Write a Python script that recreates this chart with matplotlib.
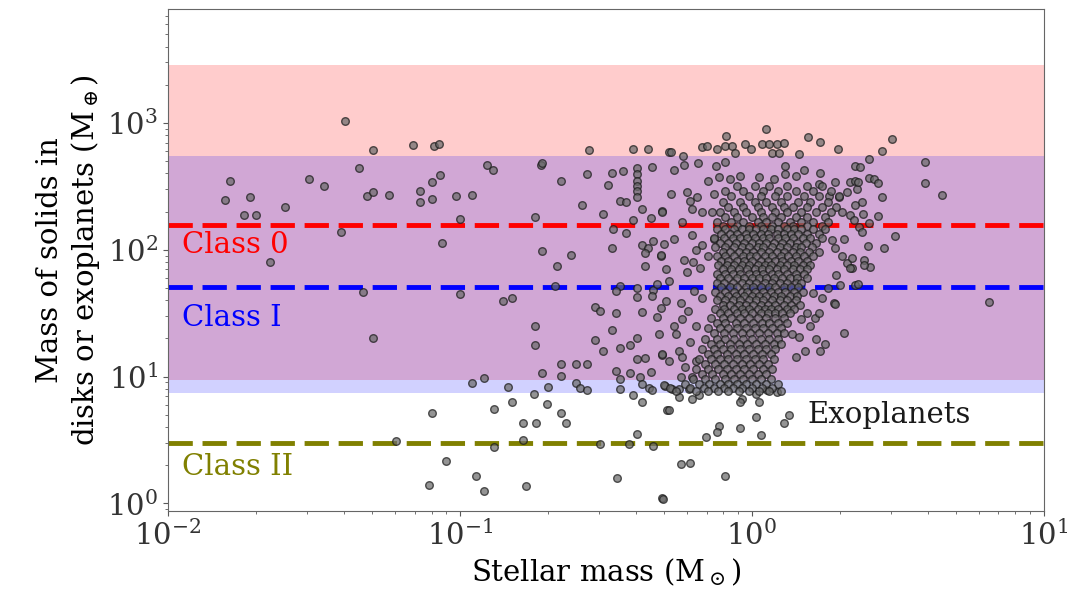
import numpy as np
import matplotlib
matplotlib.use('Agg')
import matplotlib.pyplot as plt
from matplotlib import ticker

plt.rcParams['font.family'] = 'DejaVu Serif'
plt.rcParams['mathtext.fontset'] = 'dejavuserif'

# limits of the shaded bands (M_earth) and dashed class levels
class0_band = (9.4, 2840)
class1_band = (7.4, 552)
class0_level = 157
class1_level = 51
class2_level = 3.0

# scattered points as (log10 M_star, log10 M_solid)
sparse_pts = [
    (-1.393, 3.013), (-1.297, 2.787), (-1.160, 2.823), (-1.089, 2.818), (-1.072, 2.830),
    (-1.345, 2.648), (-1.787, 2.539), (-1.518, 2.557), (-1.464, 2.500), (-1.804, 2.393),
    (-1.717, 2.414), (-1.739, 2.276), (-1.697, 2.276), (-1.599, 2.334), (-1.317, 2.422),
    (-1.297, 2.459), (-1.243, 2.432), (-1.135, 2.466), (-1.135, 2.375), (-1.095, 2.531),
    (-1.069, 2.589), (-1.095, 2.401), (-1.012, 2.424), (-0.998, 2.245), (-1.406, 2.141),
    (-1.060, 2.052), (-1.651, 1.901), (-1.332, 1.667), (-0.998, 1.651), (-1.297, 1.305),
    (-1.095, 0.709), (-1.219, 0.495), (-1.047, 0.331), (-1.105, 0.143),
    (-0.557, 2.787), (-0.406, 2.797), (-0.355, 2.797), (-0.284, 2.771), (-0.906, 2.667),
    (-0.885, 2.628), (-0.723, 2.667), (-0.717, 2.680), (-0.566, 2.596), (-0.478, 2.602),
    (-0.442, 2.622), (-0.343, 2.656), (-0.394, 2.648), (-0.394, 2.596), (-0.394, 2.544),
    (-0.394, 2.505), (-0.394, 2.466), (-0.394, 2.414), (-0.654, 2.539), (-0.491, 2.510),
    (-0.957, 2.432), (-0.452, 2.388), (-0.432, 2.380), (-0.583, 2.349), (-0.377, 2.323),
    (-0.309, 2.302), (-0.509, 2.284), (-0.742, 2.258), (-0.344, 2.250), (-0.406, 2.232),
    (-0.476, 2.167), (-0.432, 2.135), (-0.377, 2.041), (-0.355, 2.010), (-0.338, 2.068),
    (-0.301, 2.049), (-0.478, 2.010), (-0.717, 1.992), (-0.618, 1.958), (-0.364, 1.971),
    (-0.310, 1.953), (-0.366, 1.875), (-0.668, 1.870), (-0.295, 1.849), (-0.674, 1.711),
    (-0.453, 1.711), (-0.466, 1.672), (-0.394, 1.698), (-0.394, 1.625), (-0.338, 1.685),
    (-0.341, 1.633), (-0.324, 1.729), (-0.852, 1.594), (-0.822, 1.620), (-0.293, 1.599),
    (-0.538, 1.547), (-0.520, 1.516), (-0.466, 1.498), (-0.377, 1.510), (-0.326, 1.469),
    (-0.742, 1.396), (-0.478, 1.370), (-0.318, 1.338), (-0.538, 1.289), (-0.394, 1.302),
    (-0.742, 1.248), (-0.453, 1.229), (-0.418, 1.252), (-0.509, 1.198), (-0.394, 1.135),
    (-0.364, 1.148), (-0.309, 1.172), (-0.654, 1.096), (-0.603, 1.096), (-0.566, 1.096),
    (-0.717, 1.031), (-0.654, 1.005), (-0.466, 1.042), (-0.453, 0.982), (-0.418, 1.031),
    (-0.383, 0.995), (-0.377, 0.938), (-0.344, 1.039), (-0.957, 0.948), (-0.917, 0.992),
    (-0.834, 0.917), (-0.697, 0.917), (-0.603, 0.951), (-0.589, 0.912), (-0.566, 0.891),
    (-0.453, 0.901), (-0.352, 0.912), (-0.341, 0.891), (-0.298, 0.922), (-0.746, 0.859),
    (-0.406, 0.852), (-0.822, 0.799), (-0.700, 0.786), (-0.377, 0.799), (-0.883, 0.742),
    (-0.654, 0.716), (-0.290, 0.734), (-0.782, 0.630), (-0.738, 0.630), (-0.637, 0.635),
    (-0.394, 0.544), (-0.783, 0.500), (-0.883, 0.448), (-0.520, 0.469), (-0.421, 0.469),
    (-0.338, 0.453), (-0.945, 0.213), (-0.463, 0.201), (-0.917, 0.096), (-0.772, 0.135),
    (-0.307, 0.045),
    (0.050, 2.948), (-0.087, 2.896), (0.192, 2.888), (0.235, 2.852), (0.295, 2.797),
    (-0.275, 2.773), (-0.236, 2.740), (-0.170, 2.810), (-0.153, 2.818), (-0.119, 2.791),
    (-0.090, 2.818), (-0.067, 2.818), (-0.022, 2.830), (-0.001, 2.791), (0.035, 2.830),
    (0.058, 2.830), (0.087, 2.830), (0.109, 2.838), (0.069, 2.760), (0.092, 2.760),
    (0.161, 2.753), (-0.056, 2.760), (-0.184, 2.682), (-0.233, 2.667), (-0.267, 2.630),
    (-0.122, 2.661), (-0.090, 2.688), (0.113, 2.661), (0.178, 2.630), (0.235, 2.604),
    (0.355, 2.661), (-0.149, 2.544), (-0.113, 2.570), (-0.073, 2.557), (-0.039, 2.583),
    (0.024, 2.570), (0.075, 2.557), (0.115, 2.596), (0.150, 2.583), (0.229, 2.518),
    (0.286, 2.531), (0.338, 2.531), (0.355, 2.544), (-0.275, 2.440), (-0.221, 2.453),
    (-0.210, 2.388), (-0.187, 2.414), (-0.130, 2.440), (0.263, 2.427), (0.298, 2.414),
    (0.326, 2.453), (0.360, 2.479), (-0.307, 2.297), (-0.238, 2.219), (-0.204, 2.323),
    (-0.170, 2.297), (-0.136, 2.297), (0.309, 2.297), (0.338, 2.271),
    (-0.267, 2.088), (-0.204, 2.115), (-0.170, 2.037), (-0.130, 2.088),
    (0.275, 2.075), (0.315, 2.088), (0.286, 2.010), (0.326, 1.893),
    (0.343, 1.854), (-0.312, 1.958), (-0.233, 1.919), (-0.176, 1.854), (-0.221, 1.828),
    (-0.284, 1.750), (-0.198, 1.672), (0.303, 1.724), (0.355, 1.724),
    (0.281, 1.581), (-0.244, 1.581), (-0.312, 1.542),
    (0.218, 1.463), (0.229, 1.503), (0.286, 1.573), (0.315, 1.346), (0.138, 1.333),
    (0.161, 1.313), (0.184, 1.198), (0.233, 1.198), (0.153, 1.156), (-0.267, 1.398),
    (-0.238, 1.451), (-0.261, 1.333), (-0.307, 1.177), (-0.284, 1.125), (-0.250, 1.203),
    (-0.238, 1.151), (-0.227, 1.073), (-0.204, 0.995), (-0.244, 0.995), (-0.301, 0.930),
    (-0.273, 0.904), (-0.250, 0.904), (-0.216, 0.904), (0.087, 0.877), (0.052, 0.891),
    (0.013, 0.865), (-0.033, 0.826), (0.024, 0.799), (-0.250, 0.838), (-0.204, 0.826),
    (-0.181, 0.852), (-0.039, 0.799), (-0.284, 0.734), (0.013, 0.682), (0.127, 0.695),
    (0.109, 0.630), (-0.039, 0.591), (-0.113, 0.609), (-0.119, 0.565), (-0.158, 0.526),
    (0.030, 0.539), (-0.244, 0.313), (-0.213, 0.318), (-0.090, 0.219), (-0.304, 0.037),
    (0.482, 2.875), (0.446, 2.779), (0.400, 2.714), (0.372, 2.656), (0.592, 2.695),
    (0.592, 2.523), (0.653, 2.432), (0.364, 2.537), (0.400, 2.565), (0.417, 2.557),
    (0.432, 2.523), (0.446, 2.414), (0.378, 2.375), (0.355, 2.349), (0.380, 2.284),
    (0.432, 2.266), (0.349, 2.232), (0.400, 2.214), (0.366, 2.180), (0.378, 2.141),
    (0.492, 2.109), (0.397, 2.031), (0.452, 2.016), (0.343, 1.932), (0.383, 1.919),
    (0.406, 1.867), (0.383, 1.880), (0.338, 1.854), (0.364, 1.729), (0.813, 1.586),
    (0.26, 1.70), (0.21, 1.66), (0.24, 1.62), (0.29, 1.80), (0.31, 1.95), (0.19, 1.50),
    (0.20, 1.40), (0.17, 1.45), (0.22, 1.30), (0.25, 1.26),
    (-0.19, 2.00), (-0.15, 1.95), (-0.20, 1.90), (-0.17, 1.62),
    (-0.22, 1.52), (-0.19, 1.40), (-0.21, 1.27), (-0.19, 1.12),
]

# dense clump near 1 M_sun: rows of log10 M_solid, with the log10 M_star values on each row
core_ly = [2.50, 2.46, 2.42, 2.38, 2.34, 2.30, 2.26, 2.22, 2.19,
           2.16, 2.125, 2.09, 2.055, 2.02, 1.985, 1.95, 1.915, 1.88, 1.845, 1.81, 1.775,
           1.74, 1.705, 1.67, 1.635, 1.60, 1.565, 1.53, 1.50,
           1.46, 1.42, 1.38, 1.34, 1.30, 1.26, 1.22, 1.18, 1.14, 1.10, 1.06, 1.02,
           0.98, 0.945, 0.91, 0.885]
core_lx = [
    [-0.05, 0.01, 0.06, 0.12, 0.19, 0.24],
    [-0.09, -0.03, 0.04, 0.09, 0.15, 0.21, 0.27],
    [-0.07, -0.01, 0.03, 0.08, 0.12, 0.18, 0.23, 0.30],
    [-0.10, -0.04, 0.01, 0.05, 0.10, 0.16, 0.20, 0.26],
    [-0.08, -0.03, 0.02, 0.07, 0.11, 0.14, 0.19, 0.24, 0.29],
    [-0.11, -0.06, -0.02, 0.03, 0.08, 0.12, 0.17, 0.22, 0.27],
    [-0.09, -0.05, 0.00, 0.04, 0.07, 0.10, 0.15, 0.19, 0.25],
    [-0.12, -0.07, -0.03, 0.02, 0.05, 0.09, 0.13, 0.17, 0.21, 0.26],
    [-0.10, -0.05, -0.01, 0.03, 0.07, 0.11, 0.14, 0.19, 0.24],
    [-0.12, -0.09, -0.06, -0.035, -0.01, 0.015, 0.04, 0.065, 0.09, 0.12, 0.145, 0.17, 0.21, 0.25],
    [-0.105, -0.075, -0.05, -0.02, 0.005, 0.03, 0.055, 0.085, 0.11, 0.135, 0.16, 0.19, 0.23],
    [-0.13, -0.095, -0.065, -0.04, -0.015, 0.01, 0.04, 0.06, 0.09, 0.115, 0.14, 0.175, 0.20, 0.24],
    [-0.11, -0.08, -0.055, -0.025, 0.0, 0.025, 0.05, 0.075, 0.105, 0.13, 0.155, 0.185, 0.22],
    [-0.125, -0.09, -0.06, -0.035, -0.01, 0.02, 0.04, 0.07, 0.095, 0.12, 0.15, 0.17, 0.205],
    [-0.10, -0.075, -0.045, -0.02, 0.005, 0.03, 0.06, 0.085, 0.11, 0.14, 0.165, 0.195, 0.23],
    [-0.12, -0.09, -0.06, -0.03, -0.005, 0.015, 0.045, 0.07, 0.10, 0.125, 0.15, 0.18, 0.21],
    [-0.105, -0.08, -0.05, -0.025, 0.0, 0.03, 0.055, 0.08, 0.105, 0.135, 0.16, 0.19],
    [-0.115, -0.085, -0.06, -0.035, -0.01, 0.02, 0.045, 0.065, 0.095, 0.12, 0.145, 0.175, 0.20],
    [-0.10, -0.07, -0.045, -0.015, 0.01, 0.035, 0.06, 0.085, 0.11, 0.14, 0.165, 0.19],
    [-0.12, -0.09, -0.065, -0.04, -0.01, 0.015, 0.04, 0.07, 0.09, 0.12, 0.15, 0.18],
    [-0.11, -0.08, -0.05, -0.025, 0.0, 0.025, 0.05, 0.075, 0.105, 0.13, 0.155, 0.19],
    [-0.12, -0.095, -0.065, -0.035, -0.01, 0.015, 0.045, 0.07, 0.095, 0.12, 0.15, 0.17],
    [-0.105, -0.075, -0.05, -0.02, 0.005, 0.03, 0.06, 0.08, 0.11, 0.135, 0.16],
    [-0.125, -0.09, -0.06, -0.035, -0.015, 0.01, 0.04, 0.065, 0.09, 0.115, 0.145, 0.175],
    [-0.11, -0.08, -0.055, -0.025, 0.0, 0.025, 0.05, 0.075, 0.1, 0.13, 0.155],
    [-0.12, -0.09, -0.065, -0.04, -0.01, 0.015, 0.04, 0.07, 0.095, 0.12, 0.15],
    [-0.10, -0.075, -0.045, -0.02, 0.005, 0.03, 0.055, 0.08, 0.11, 0.135, 0.165],
    [-0.125, -0.095, -0.06, -0.035, -0.01, 0.02, 0.045, 0.065, 0.09, 0.12, 0.145],
    [-0.11, -0.08, -0.05, -0.025, 0.0, 0.03, 0.055, 0.08, 0.105, 0.13],
    [-0.14, -0.10, -0.07, -0.04, -0.01, 0.02, 0.05, 0.08, 0.11],
    [-0.12, -0.09, -0.055, -0.025, 0.005, 0.035, 0.06, 0.09, 0.12],
    [-0.15, -0.11, -0.08, -0.05, -0.02, 0.01, 0.04, 0.07, 0.10],
    [-0.13, -0.095, -0.065, -0.035, -0.005, 0.025, 0.055, 0.085, 0.11],
    [-0.16, -0.12, -0.09, -0.06, -0.03, 0.0, 0.03, 0.06, 0.09],
    [-0.14, -0.11, -0.075, -0.045, -0.015, 0.015, 0.045, 0.075, 0.10],
    [-0.17, -0.13, -0.10, -0.07, -0.04, -0.01, 0.02, 0.05, 0.08],
    [-0.15, -0.12, -0.085, -0.055, -0.025, 0.005, 0.035, 0.065],
    [-0.18, -0.14, -0.11, -0.08, -0.05, -0.02, 0.01, 0.04, 0.075],
    [-0.16, -0.125, -0.095, -0.065, -0.035, -0.005, 0.025, 0.055],
    [-0.19, -0.15, -0.115, -0.085, -0.055, -0.025, 0.005, 0.04, 0.07],
    [-0.17, -0.135, -0.10, -0.07, -0.04, -0.01, 0.02, 0.05],
    [-0.20, -0.16, -0.125, -0.09, -0.06, -0.03, 0.0, 0.03, 0.065],
    [-0.23, -0.18, -0.145, -0.11, -0.08, -0.05, -0.02, 0.015, 0.05, 0.09],
    [-0.28, -0.21, -0.165, -0.13, -0.095, -0.065, -0.035, 0.0, 0.035, 0.07],
    [-0.26, -0.19, -0.15, -0.115, -0.08, -0.045, -0.01, 0.025, 0.06, 0.10],
]

log_mstar = [p[0] for p in sparse_pts]
log_msolid = [p[1] for p in sparse_pts]
for ly, row in zip(core_ly, core_lx):
    log_mstar += row
    log_msolid += [ly] * len(row)
mstar = 10 ** np.array(log_mstar)
msolid = 10 ** np.array(log_msolid)

fig = plt.figure(figsize=(10.76, 6.03), dpi=100)
ax = fig.add_axes([0.156, 0.153, 0.814, 0.832])

ax.axhspan(*class0_band, color='red', alpha=0.2, lw=0, zorder=0)
ax.axhspan(*class1_band, color='blue', alpha=0.18, lw=0, zorder=0)

ax.axhline(class0_level, color='red', lw=3.5, ls=(0, (5, 2)), zorder=2)
ax.axhline(class1_level, color='blue', lw=3.5, ls=(0, (5, 2)), zorder=2)
ax.axhline(class2_level, color='olive', lw=3.5, ls=(0, (5, 2)), zorder=2)

ax.scatter(mstar, msolid, s=30, facecolor='0.42', edgecolor='0.1', linewidth=1.0,
           alpha=0.72, zorder=3)

ax.text(0.0112, 109, 'Class 0', color='red', fontsize=21, va='center')
ax.text(0.0112, 29, 'Class I', color='blue', fontsize=21, va='center')
ax.text(0.0112, 1.94, 'Class II', color='olive', fontsize=21, va='center')
ax.text(1.55, 5.0, 'Exoplanets', color='0.1', fontsize=21, va='center')

ax.set_xscale('log')
ax.set_yscale('log')
ax.set_xlim(1e-2, 1e1)
ax.set_ylim(0.875, 7900)

pow_fmt = ticker.FuncFormatter(lambda v, pos: r'$10^{%d}$' % round(np.log10(v)))
ax.xaxis.set_major_formatter(pow_fmt)
ax.yaxis.set_major_formatter(pow_fmt)
ax.tick_params(labelsize=21, colors='0.2')
ax.tick_params(which='both', color='0.35')
for sp in ax.spines.values():
    sp.set_color('0.4')

ax.set_xlabel(r'Stellar mass (M$_\odot$)', fontsize=21)
ax.set_ylabel('Mass of solids in\ndisks or exoplanets (M$_\\oplus$)', fontsize=21)

fig.savefig('out.png', dpi=100)
